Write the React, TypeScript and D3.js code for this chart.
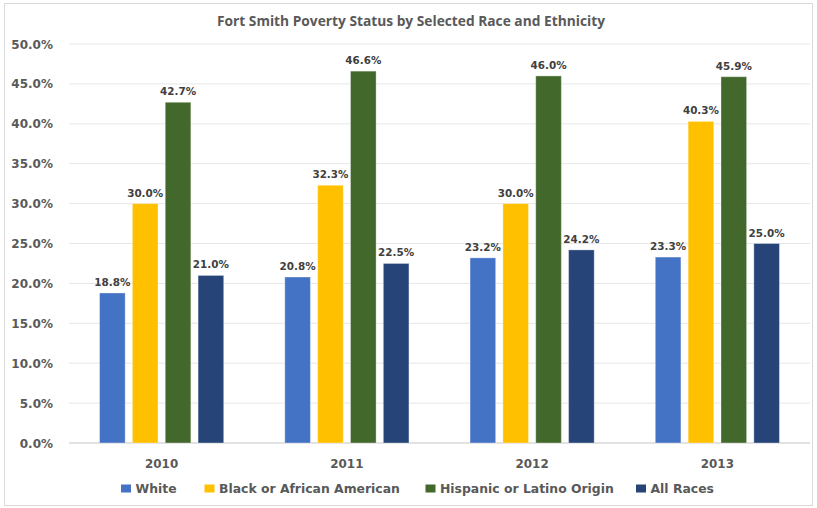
import React from "react";
import * as d3 from "d3";

const years = ["2010", "2011", "2012", "2013"];
const seriesNames = ["White", "Black or African American", "Hispanic or Latino Origin", "All Races"];
const white = [18.8, 20.8, 23.2, 23.3];
const black = [30.0, 32.3, 30.0, 40.3];
const hispanic = [42.7, 46.6, 46.0, 45.9];
const allRaces = [21.0, 22.5, 24.2, 25.0];
const yTicks = [0, 5, 10, 15, 20, 25, 30, 35, 40, 45, 50];
const colors = ["#4472C4", "#FFC000", "#43682B", "#264478"];

const W = 817, H = 508;
const margin = { left: 69, right: 7, top: 44, bottom: 65 };
const labelFont = "'DejaVu Sans', Verdana, sans-serif";
const titleFont = "'Open Sans', sans-serif";

export default function App() {
  const series = [white, black, hispanic, allRaces];
  const x0 = d3.scaleBand().domain(years).range([margin.left, W - margin.right]).paddingInner(0).paddingOuter(0);
  const x1 = d3.scaleBand().domain(seriesNames).range([0, x0.bandwidth()]).paddingInner(0.22).paddingOuter(0.93);
  const y = d3.scaleLinear().domain([0, 50]).range([H - margin.bottom, margin.top]);
  const legendX = [121, 204.5, 425.5, 636];
  return (
    <svg width={W} height={H} style={{ position: "absolute", left: 0, top: 0 }}>
      <rect x={0} y={0} width={W} height={H} fill="#fff" />
      <rect x={4.5} y={3.5} width={W - 9} height={H - 6} fill="none" stroke="#D9D9D9" />
      <text x={411} y={25.5} textAnchor="middle" fontFamily={titleFont} fontWeight="bold" fontSize={13.5} fill="#595959" textLength={388} lengthAdjust="spacingAndGlyphs">
        Fort Smith Poverty Status by Selected Race and Ethnicity
      </text>
      {yTicks.map((t) => (
        <g key={t}>
          <line x1={margin.left} x2={W - margin.right} y1={y(t)} y2={y(t)} stroke={t === 0 ? "#D9D9D9" : "#E6E6E6"} strokeWidth={t === 0 ? 1.5 : 1} />
          <text x={53} y={y(t) + 4.5} textAnchor="end" fontFamily={labelFont} fontWeight="bold" fontSize={12} fill="#595959">
            {t.toFixed(1) + "%"}
          </text>
        </g>
      ))}
      {years.map((yr, i) => (
        <g key={yr} transform={`translate(${x0(yr)},0)`}>
          {series.map((s, j) => {
            const bx = x1(seriesNames[j])!;
            const bw = x1.bandwidth();
            return (
              <g key={j}>
                <rect x={bx} y={y(s[i])} width={bw} height={y(0) - y(s[i])} fill={colors[j]} stroke="#ffffff" strokeOpacity={0.35} strokeWidth={1} />
                <text x={bx + bw / 2} y={y(s[i]) - 7} textAnchor="middle" fontFamily={labelFont} fontWeight="bold" fontSize={10.4} fill="#404040">
                  {s[i].toFixed(1) + "%"}
                </text>
              </g>
            );
          })}
          <text x={x0.bandwidth() / 2} y={468} textAnchor="middle" fontFamily={labelFont} fontWeight="bold" fontSize={11.9} fill="#595959">
            {yr}
          </text>
        </g>
      ))}
      {seriesNames.map((n, j) => (
        <g key={n}>
          <rect x={legendX[j]} y={484.5} width={10} height={8} fill={colors[j]} />
          <text x={legendX[j] + 14.5} y={493} fontFamily={labelFont} fontWeight="bold" fontSize={12.4} fill="#595959">{n}</text>
        </g>
      ))}
    </svg>
  );
}
